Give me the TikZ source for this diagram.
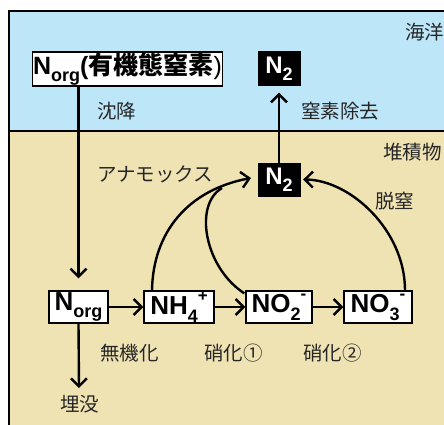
\documentclass[tikz,border=0pt]{standalone}
\usepackage{fontspec}
\setmainfont{Liberation Sans}
\newfontfamily\jp{Noto Sans CJK JP}
\usetikzlibrary{arrows.meta}
\definecolor{ocean}{HTML}{BEE6F9}
\definecolor{sedi}{HTML}{EFE3B4}
\newcommand{\mysub}[1]{\raisebox{-0.3em}{\fontsize{18}{18}\selectfont #1}}
\newcommand{\mysup}[1]{\raisebox{0.5em}{\fontsize{17}{17}\selectfont #1}}
\tikzset{
  chem/.style={draw=black, line width=1.3pt, fill=white, inner sep=0pt, font=\fontsize{25}{25}\selectfont\bfseries, minimum height=32pt},
  chemlow/.style={chem, font=\fontsize{26}{26}\selectfont\bfseries},
  blk/.style={draw=black, fill=black, text=white, inner sep=0pt, minimum width=42pt, minimum height=34pt, font=\fontsize{24}{24}\selectfont\bfseries},
  lab/.style={inner sep=0pt, font=\jp\fontsize{19.5}{19.5}\selectfont, text=black!85},
  arr/.style={line width=2.4pt, -{Straight Barb[length=8pt,width=16pt]}},
  ln/.style={line width=2.4pt}
}
\begin{document}
\begin{tikzpicture}[x=1pt,y=-1pt]
\useasboundingbox (0,0) rectangle (444,425);
\begin{scope}
\clip (0,0) rectangle (444,425);
\fill[ocean] (9,11) rectangle (460,131);
\fill[sedi] (9,131) rectangle (460,440);
\draw[line width=1.8pt] (460,11) -- (9,11) -- (9,440);
\draw[line width=1.8pt] (9,131) -- (460,131);
\end{scope}
% labels
\node[lab, anchor=west] (sea) at (405,32) {海洋};
\node[lab, anchor=west] (sed) at (383,152) {堆積物};
\node[lab, anchor=west] (chin) at (97,111) {沈降};
\node[lab, anchor=west] (jokyo) at (301,111) {窒素除去};
\node[lab, anchor=west] (anam) at (97,174) {アナモックス};
\node[lab, anchor=west] (datsu) at (375,201) {脱窒};
\node[lab, anchor=west] (muki) at (100,353) {無機化};
\node[lab, anchor=west] (sho1) at (204,353) {硝化①};
\node[lab, anchor=west] (sho2) at (303,353) {硝化②};
\node[lab, anchor=west] (mai) at (60,404) {埋没};
% boxes
\node[chem, minimum width=190pt, minimum height=34pt] (norgtop) at (127.5,69) {N\mysub{org}(\jp 有機態窒素\rm)};
\node[blk] (n2top) at (279,68.5) {N\mysub{2}};
\node[blk, minimum height=33pt] (n2low) at (279,179.5) {N\mysub{2}};
\node[chemlow, minimum width=59pt] (norg) at (78.5,307) {N\mysub{org}};
\node[chemlow, minimum width=70pt] (nh4) at (179,307) {NH\mysub{4}\mysup{+}};
\node[chemlow, minimum width=66pt] (no2) at (279,307) {NO\mysub{2}\mysup{-}};
\node[chemlow, minimum width=68pt] (no3) at (378,307) {NO\mysub{3}\mysup{-}};
\coordinate (maiTop) at (79,388);
% arrows
\draw[arr] (norgtop.south -| norg.north) -- ([yshift=12pt]norg.north);
\draw[arr] (n2low.north) -- ([yshift=-7pt]n2top.south);
\draw[arr] (norg.south) -- (maiTop);
\draw[arr] (norg.east) -- (nh4.west);
\draw[arr] (nh4.east) -- (no2.west);
\draw[arr] (no2.east) -- (no3.west);
\coordinate (ana) at (251,178);
\coordinate (merge) at (222,188);
\draw[arr] ([xshift=-27pt]nh4.north) .. controls (153,232) and (188,190) .. (ana);
\draw[ln] ([xshift=-1pt,yshift=-3pt]no2.north west) .. controls (205,268) and (193,205) .. (merge);
\draw[arr] ([xshift=27pt]no3.north) .. controls (405,230) and (350,180) .. ([xshift=3pt]n2low.east);
\end{tikzpicture}
\end{document}
